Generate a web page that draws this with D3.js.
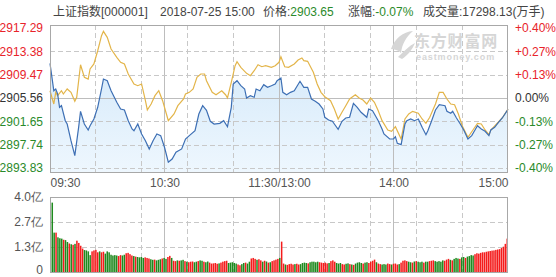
<!DOCTYPE html>
<html>
<head>
<meta charset="utf-8">
<script src="https://cdn.jsdelivr.net/npm/d3@7"></script>
<style>
  html, body { margin: 0; padding: 0; background: #fff; }
  svg { display: block; font-family: "Liberation Sans", Arial, "Noto Sans CJK SC", sans-serif; }
</style>
</head>
<body>
<svg id="chart" width="556" height="277"></svg>
<script>
// header
const title = "上证指数[000001]";
const stamp = "2018-07-25 15:00";
const price = "2903.65";
const change = "-0.07%";
const volumeText = "成交量:17298.13(万手)";

// price axis
const prevClose = 2905.56;
const priceTicks = [2917.29, 2913.38, 2909.47, 2905.56, 2901.65, 2897.74, 2893.83];
const pctTicks = ["+0.40%", "+0.27%", "+0.13%", "0.00%", "-0.13%", "-0.27%", "-0.40%"];
const timeTicks = [0, 60, 120, 180, 240];
const timeLabels = ["09:30", "10:30", "11:30/13:00", "14:00", "15:00"];

// index line (minute number from 09:30, value)
const indexMin = [0,2,3,4,5,6,8,9,11,13,15,16,18,20,21,23,25,27,28,30,32,35,37,39,41,43,44,46,48,50,
  52,54,56,58,60,62,64,66,69,71,73,76,78,80,82,84,86,89,91,93,95,96,98,100,102,103,105,107,108,110,
  112,114,116,118,119,121,122,124,126,128,131,133,135,137,139,141,143,144,146,148,149,151,153,155,157,159,161,163,166,167,
  169,170,172,174,175,178,180,181,182,184,186,187,189,191,193,195,197,198,200,202,204,207,208,210,211,213,215,217,219,221,
  223,224,226,228,230,231,233,235,237,240];
const indexVal = [2911.37,2906.78,2907.07,2906.23,2904.00,2904.27,2901.76,2901.20,2898.41,2895.90,2900.65,2903.33,2901.20,2900.20,2900.92,2902.04,2904.00,2907.07,2908.74,2908.46,
  2906.78,2904.84,2903.72,2903.55,2901.76,2900.37,2900.08,2901.20,2899.53,2898.41,2897.02,2898.41,2899.53,2899.25,2897.30,2894.79,2895.34,2896.46,2897.02,2898.69,
  2899.25,2900.08,2902.88,2904.27,2903.50,2901.66,2901.20,2901.32,2901.76,2900.75,2904.00,2907.91,2908.46,2907.62,2907.07,2905.56,2905.95,2905.68,2907.07,2906.78,
  2907.79,2907.35,2907.62,2907.91,2908.46,2908.91,2906.51,2906.11,2906.51,2906.78,2908.36,2907.35,2907.35,2905.39,2905.01,2904.55,2903.72,2902.33,2901.87,2901.66,
  2901.20,2900.32,2901.66,2902.21,2902.33,2904.67,2904.00,2903.16,2902.33,2903.72,2903.43,2902.88,2901.76,2900.37,2899.53,2898.69,2898.69,2899.08,2897.97,2897.74,
  2901.20,2901.76,2902.04,2901.76,2902.04,2900.65,2899.41,2900.08,2901.76,2903.55,2904.44,2904.27,2903.33,2903.00,2903.33,2902.21,2901.20,2900.08,2898.69,2899.25,
  2900.37,2900.92,2900.37,2899.98,2899.25,2900.20,2900.65,2901.49,2902.21,2903.65];

// average line
const avgMin = [0,2,3,4,6,7,9,11,13,14,16,18,20,21,23,25,27,28,30,32,35,37,39,41,44,46,48,50,51,53,
  55,57,59,61,62,65,67,70,71,73,75,77,79,81,82,85,87,90,92,93,95,97,98,100,103,105,107,109,111,113,
  116,118,120,121,123,125,128,130,132,133,135,138,140,142,144,147,149,151,153,155,157,160,162,164,166,168,170,172,174,177,
  179,181,184,186,188,190,193,195,197,199,202,204,206,208,210,212,214,216,219,222,224,226,228,230,231,234,237,240];
const avgVal = [2906.78,2904.55,2906.51,2905.95,2906.78,2906.23,2907.07,2906.51,2905.01,2905.68,2911.14,2909.03,2908.74,2910.42,2911.26,2913.48,2916.00,2916.73,2915.73,2913.77,
  2912.38,2911.54,2911.26,2909.58,2907.91,2907.62,2907.91,2905.11,2903.55,2904.55,2905.95,2906.78,2905.11,2902.88,2901.76,2902.88,2904.27,2905.39,2906.23,2906.51,
  2907.07,2909.03,2909.58,2909.58,2908.46,2906.51,2906.11,2906.78,2906.11,2905.56,2908.19,2910.97,2911.64,2910.70,2909.70,2909.30,2910.13,2911.14,2910.80,2910.97,
  2910.70,2910.97,2911.54,2912.48,2910.80,2910.70,2911.26,2911.93,2912.26,2911.81,2911.71,2909.86,2907.91,2906.51,2905.78,2905.11,2903.72,2902.04,2903.16,2904.27,
  2905.39,2906.11,2905.56,2905.22,2904.55,2905.56,2904.84,2903.43,2901.76,2900.20,2899.98,2900.75,2898.69,2902.04,2902.88,2903.33,2903.00,2902.04,2901.32,2902.33,
  2904.55,2906.51,2906.51,2905.39,2904.55,2904.44,2902.88,2900.92,2898.98,2900.37,2901.32,2901.20,2900.20,2899.41,2900.20,2901.20,2902.21,2903.72];

// volume per minute (亿) and up/down colour
const volTicks = [4.0, 2.667, 1.333, 0];
const volLabels = ["4.0亿", "2.7亿", "1.3亿", "0"];
const volume = [3.70,2.10,2.10,1.85,1.80,1.78,1.72,1.70,1.60,1.52,
  1.48,1.45,1.50,1.67,1.55,1.40,1.25,1.17,1.15,1.10,
  0.90,1.10,1.15,1.18,1.05,1.10,1.05,1.08,0.98,1.10,
  1.05,0.92,0.88,0.90,0.88,0.85,0.90,0.88,0.92,1.00,
  1.02,0.95,0.88,0.85,0.82,0.80,0.78,0.80,0.75,0.78,
  0.75,0.72,0.68,0.65,0.66,0.62,0.65,0.68,0.72,0.75,
  0.70,0.80,0.86,0.75,0.60,0.58,0.62,0.60,0.62,0.65,
  0.58,0.55,0.52,0.55,0.56,0.52,0.55,0.58,0.62,0.60,
  0.55,0.52,0.56,0.50,0.45,0.46,0.48,0.44,0.46,0.50,
  0.55,0.58,0.60,0.48,0.50,0.52,0.48,0.45,0.40,0.36,
  0.42,0.48,0.50,0.45,0.55,0.72,0.75,0.70,0.65,0.68,
  0.62,0.55,0.60,0.56,0.50,0.52,0.58,0.62,0.66,0.70,
  0.75,1.62,0.45,0.40,0.38,0.42,0.44,0.40,0.42,0.44,
  0.40,0.42,0.48,0.50,0.48,0.46,0.52,0.55,0.55,0.52,
  0.55,0.52,0.50,0.48,0.50,0.46,0.48,0.58,0.62,0.55,
  0.48,0.45,0.48,0.42,0.40,0.44,0.46,0.42,0.40,0.38,
  0.45,0.50,0.52,0.48,0.45,0.50,0.52,0.48,0.55,0.60,
  0.66,0.52,0.45,0.42,0.40,0.42,0.40,0.45,0.42,0.40,
  0.44,0.45,0.40,0.42,0.50,0.60,0.62,0.58,0.55,0.52,
  0.50,0.56,0.58,0.55,0.52,0.55,0.50,0.55,0.55,0.58,
  0.60,0.62,0.58,0.55,0.58,0.55,0.62,0.60,0.66,0.70,
  0.65,0.62,0.70,0.75,0.72,0.70,0.78,0.80,0.75,0.82,
  0.85,0.90,0.88,0.95,1.00,0.98,1.02,1.05,1.05,1.08,
  1.10,1.12,1.14,1.15,1.18,1.20,1.22,1.28,1.35,1.50,
  1.78];
const volDir = ("ggrgggrggr" + "grgrrrrggg" + "grrrrgrrgg" + "gggggrrggr" + "rrrgrggggr" +
  "rrggrgggrg" + "grrgrrgrgg" + "rgrrrggrgg" + "rggrrrrrgr" + "rrrgggggrr" +
  "ggrggrrrgr" + "rgrgrgrrrr" + "grrgrrrrgr" + "rggggrgggg" + "grrrrrgrrr" +
  "gggrrggrgr" + "ggggrggrrr" + "rgrrgggrrg" + "rrrgrrrrgg" + "rgrgggrggr" +
  "rrgggggrrr" + "grgggrggrg" + "gggrrrrrrr" + "rrrrrrrrrr" + "r").split("");

const RED = "#e8232a", GREEN = "#2a8a2a", GREY = "#333";

const svg = d3.select("#chart");
const left = 50, right = 508;
const main = { top: 25, bottom: 172 };
const vol = { top: 197, bottom: 272 };

const x = d3.scaleLinear().domain([0, 240]).range([left, right]);
const y = d3.scaleLinear().domain([2893.83, 2917.29]).range([168, 28]);
const yv = d3.scaleLinear().domain([0, 4.0]).range([vol.bottom, vol.top]);
const xb = d3.scaleBand().domain(d3.range(volume.length)).range([left + 1.5, right]).paddingInner(0.2);

// header text
const head = svg.append("text").attr("y", 16).attr("font-size", 12).attr("fill", "#444");
head.append("tspan").attr("x", 53).text(title);
head.append("tspan").attr("x", 160).text(stamp);
head.append("tspan").attr("x", 263).text("价格:");
head.append("tspan").attr("fill", GREEN).text(price);
head.append("tspan").attr("x", 348).text("涨幅:");
head.append("tspan").attr("fill", GREEN).text(change);
head.append("tspan").attr("x", 423).text(volumeText);

// fill under index line
const defs = svg.append("defs");
const grad = defs.append("linearGradient").attr("id", "fillGrad").attr("x1", 0).attr("y1", 0).attr("x2", 0).attr("y2", 1);
grad.append("stop").attr("offset", "0%").attr("stop-color", "#d6eafa");
grad.append("stop").attr("offset", "100%").attr("stop-color", "#eef7fe");

const indexPts = indexMin.map((m, i) => [m, indexVal[i]]);
const avgPts = avgMin.map((m, i) => [m, avgVal[i]]);

svg.append("path")
  .datum(indexPts)
  .attr("fill", "url(#fillGrad)")
  .attr("d", d3.area().x(d => x(d[0])).y0(main.bottom).y1(d => y(d[1])));

// grid
function grid(g, y0, y1, hLines) {
  const vDash = [24, 48, 72, 96, 144, 168, 192, 216];
  const vSolid = [60, 120, 180];
  g.selectAll(".vd").data(vDash).join("line")
    .attr("x1", d => x(d)).attr("x2", d => x(d)).attr("y1", y0).attr("y2", y1)
    .attr("stroke", "#c8c8c8").attr("stroke-dasharray", "5,3");
  g.selectAll(".vs").data(vSolid).join("line")
    .attr("x1", d => x(d)).attr("x2", d => x(d)).attr("y1", y0).attr("y2", y1)
    .attr("stroke", "#bdbdbd");
  g.selectAll(".h").data(hLines).join("line")
    .attr("x1", left).attr("x2", right).attr("y1", d => d.y).attr("y2", d => d.y)
    .attr("stroke", d => d.solid ? "#bdbdbd" : "#c8c8c8")
    .attr("stroke-dasharray", d => d.solid ? null : "5,3");
}
const gMain = svg.append("g").attr("shape-rendering", "crispEdges");
grid(gMain, main.top, main.bottom,
  priceTicks.slice(1).map(v => ({ y: Math.round(y(v)) + 0.5, solid: v === prevClose })));
const gVol = svg.append("g").attr("shape-rendering", "crispEdges");
grid(gVol, vol.top, vol.bottom, volTicks.slice(1, 3).map(v => ({ y: Math.round(yv(v)) + 0.5, solid: false })));

// watermark
const wm = svg.append("g").attr("fill", "#d6d6d6");
wm.append("path").attr("d", "M391,49 C395,38 403,32 413,31 C406,37 402,44 401,53 C398,50 394,49 391,49 Z M398,57 C404,51 409,46 415,43 C412,50 408,55 402,59 Z");
wm.append("text").attr("x", 414).attr("y", 46.5).attr("font-size", 16).attr("font-weight", "bold")
  .attr("font-family", "'Noto Sans CJK SC', sans-serif").attr("letter-spacing", 0.8).text("东方财富网");
wm.append("text").attr("x", 416).attr("y", 59.5).attr("font-size", 9).attr("font-weight", "bold")
  .attr("letter-spacing", 0.9).text("eastmoney.com");

// lines
svg.append("path").datum(avgPts)
  .attr("fill", "none").attr("stroke", "#e3b54a").attr("stroke-width", 1.2)
  .attr("d", d3.line().x(d => x(d[0])).y(d => y(d[1])));
svg.append("path").datum(indexPts)
  .attr("fill", "none").attr("stroke", "#3d6fb4").attr("stroke-width", 1.2)
  .attr("d", d3.line().x(d => x(d[0])).y(d => y(d[1])));

// volume bars
svg.append("g").selectAll("rect").data(volume).join("rect")
  .attr("x", (d, i) => xb(i))
  .attr("width", xb.bandwidth())
  .attr("y", d => yv(d))
  .attr("height", d => vol.bottom - yv(d))
  .attr("fill", (d, i) => volDir[i] === "r" ? "#f41c1c" : "#1f8a1f");

// frames
svg.append("rect").attr("x", left + 0.5).attr("y", main.top + 0.5)
  .attr("width", right - left - 1).attr("height", main.bottom - main.top)
  .attr("fill", "none").attr("stroke", "#a8a8a8");
svg.append("rect").attr("x", left + 0.5).attr("y", vol.top + 0.5)
  .attr("width", right - left - 1).attr("height", vol.bottom - vol.top)
  .attr("fill", "none").attr("stroke", "#a8a8a8");

function tickColor(i) { return i < 3 ? RED : (i === 3 ? GREY : GREEN); }

// left price axis
const axL = svg.append("g").attr("transform", `translate(${left - 4},0)`)
  .call(d3.axisLeft(y).tickValues(priceTicks).tickSize(0).tickFormat(d3.format(".2f")));
axL.select(".domain").remove();
axL.selectAll("text").attr("font-size", 12).attr("font-family", null)
  .attr("fill", (d, i) => tickColor(i));

// right percent axis
const axR = svg.append("g").attr("transform", `translate(${right + 4},0)`)
  .call(d3.axisRight(y).tickValues(priceTicks).tickSize(0).tickFormat((d, i) => pctTicks[i]));
axR.select(".domain").remove();
axR.selectAll("text").attr("font-size", 12).attr("font-family", null)
  .attr("fill", (d, i) => tickColor(i));

// time axis
const axT = svg.append("g").attr("transform", `translate(0,${main.bottom})`)
  .call(d3.axisBottom(x).tickValues(timeTicks).tickSize(0).tickPadding(6).tickFormat((d, i) => timeLabels[i]));
axT.select(".domain").remove();
axT.selectAll("text").attr("font-size", 12).attr("font-family", null).attr("fill", "#555")
  .attr("text-anchor", (d, i) => i === 0 ? "start" : (i === timeTicks.length - 1 ? "end" : "middle"));

// volume axis
const axV = svg.append("g").attr("transform", `translate(${left - 4},0)`)
  .call(d3.axisLeft(yv).tickValues(volTicks).tickSize(0).tickFormat((d, i) => volLabels[i]));
axV.select(".domain").remove();
axV.selectAll("text").attr("font-size", 12).attr("font-family", null).attr("fill", "#555")
  .attr("dy", (d, i) => i === volTicks.length - 1 ? "0.15em" : "0.32em");
</script>
</body>
</html>
